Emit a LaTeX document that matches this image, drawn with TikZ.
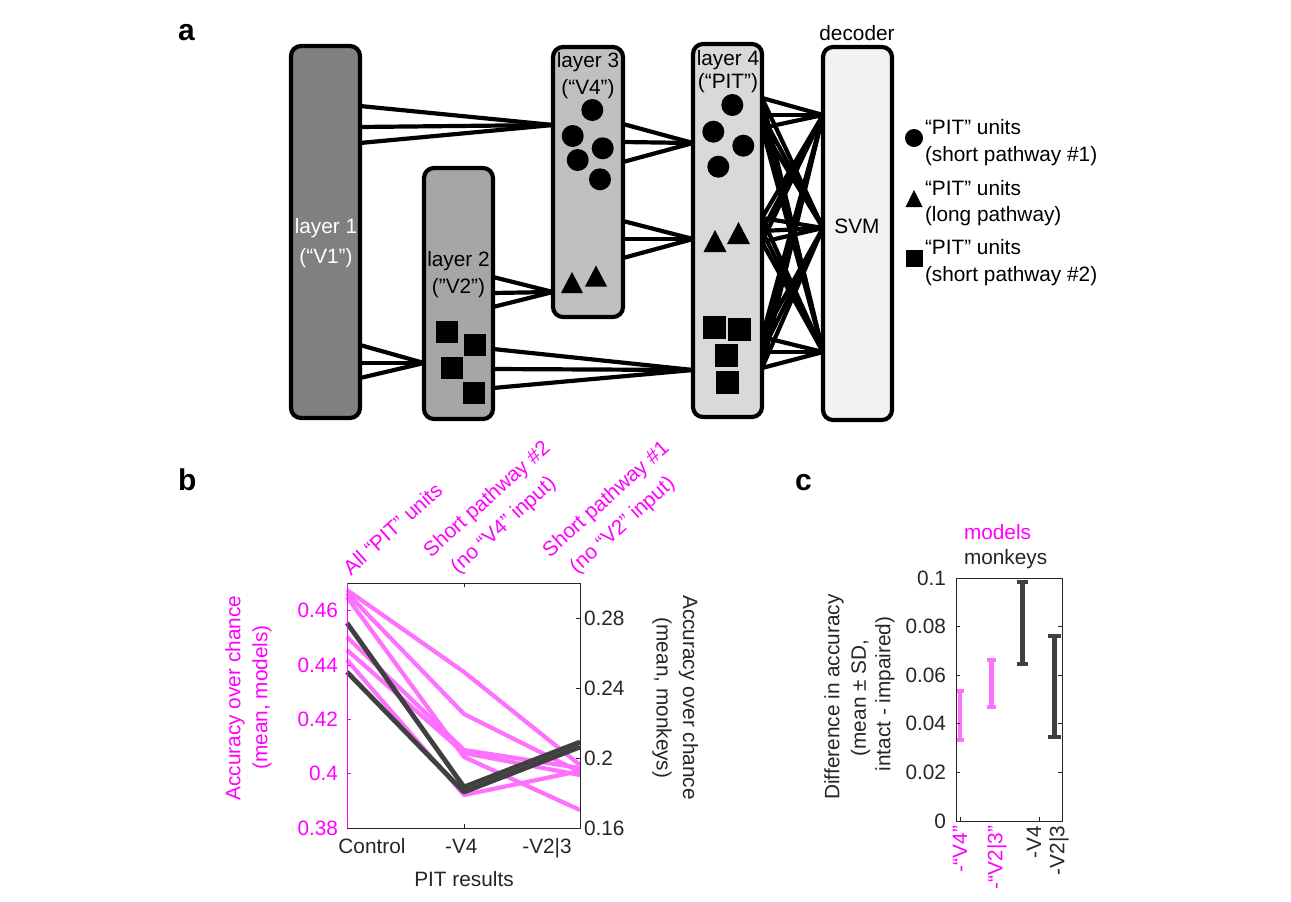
\documentclass[tikz,border=0pt]{standalone}
\usepackage{fontspec}
\setmainfont{Liberation Sans}
\definecolor{mag}{RGB}{255,0,255}
\definecolor{magl}{RGB}{255,112,255}
\definecolor{dkl}{RGB}{64,64,64}
\definecolor{axc}{RGB}{38,38,38}
\definecolor{gA}{RGB}{128,128,128}
\definecolor{gB}{RGB}{166,166,166}
\definecolor{gC}{RGB}{192,192,192}
\definecolor{gD}{RGB}{217,217,217}
\definecolor{gE}{RGB}{242,242,242}
\newcommand\mkcirc[3]{\fill (#1,#2) circle[radius=#3pt];}
\newcommand\mktri[4]{\fill (#1-#3,#2+#4) -- (#1+#3,#2+#4) -- (#1,#2-#4) -- cycle;}
\newcommand\mksq[3]{\fill (#1-#3,#2-#3) rectangle (#1+#3,#2+#3);}
\begin{document}
\begin{tikzpicture}[x=1pt,y=-1pt,
  every node/.style={inner sep=0pt, outer sep=0pt},
  font=\fontsize{20.8}{25}\selectfont,
  layerbox/.style={draw=black, line width=4.2pt, rounded corners=10pt},
  conn/.style={line width=4.2pt},
  txt/.style={anchor=base},
  lgd/.style={anchor=base west},
  panel/.style={font=\fontsize{30}{34}\selectfont\bfseries, anchor=base west},
  axis/.style={axc, line width=0.9pt},
  mline/.style={magl, line width=4.2pt, line join=round},
  gline/.style={dkl, line width=4.8pt, line join=round},
  ebar/.style={line width=4.2pt},
  toplbl/.style={mag, rotate=42, anchor=base west},
]
\useasboundingbox (0,0) rectangle (1291,902);
\fill[white] (0,0) rectangle (1291,902);

% ---------------- panel a ----------------
\node[panel] (pa) at (178,40) {a};

% connector end points
\coordinate (p1) at (360,106); \coordinate (p2) at (360,127); \coordinate (p3) at (360,143);
\coordinate (q1) at (553,125);
\coordinate (p4) at (360,345); \coordinate (p5) at (360,363); \coordinate (p6) at (360,378);
\coordinate (q2) at (424,363);
\coordinate (p7) at (493,277); \coordinate (p8) at (493,293); \coordinate (p9) at (493,307);
\coordinate (q3) at (553,292);
\coordinate (p10) at (493,349); \coordinate (p11) at (493,369); \coordinate (p12) at (493,388);
\coordinate (q4) at (693,370);
\coordinate (p13) at (623,124); \coordinate (p14) at (623,142); \coordinate (p15) at (623,162);
\coordinate (q5) at (693,143);
\coordinate (p16) at (623,221); \coordinate (p17) at (623,239); \coordinate (p18) at (623,258);
\coordinate (q6) at (693,239);
\coordinate (s1) at (762,98);  \coordinate (s2) at (762,115); \coordinate (s3) at (762,128);
\coordinate (s4) at (762,218); \coordinate (s5) at (762,231); \coordinate (s6) at (762,242);
\coordinate (s7) at (762,337); \coordinate (s8) at (762,352); \coordinate (s9) at (762,368);
\coordinate (t1) at (823,115); \coordinate (t2) at (823,228); \coordinate (t3) at (823,352);

\foreach \s in {p1,p2,p3} \draw[conn] (\s) -- (q1);
\foreach \s in {p4,p5,p6} \draw[conn] (\s) -- (q2);
\foreach \s in {p7,p8,p9} \draw[conn] (\s) -- (q3);
\foreach \s in {p10,p11,p12} \draw[conn] (\s) -- (q4);
\foreach \s in {p13,p14,p15} \draw[conn] (\s) -- (q5);
\foreach \s in {p16,p17,p18} \draw[conn] (\s) -- (q6);
\foreach \i in {1,...,9} \foreach \j in {1,2,3} \draw[conn] (s\i) -- (t\j);

% boxes
\node[layerbox, fill=gA, minimum width=69pt, minimum height=372pt] (L1) at (325.5,232) {};
\node[layerbox, fill=gB, minimum width=69pt, minimum height=251pt] (L2) at (458.5,293.5) {};
\node[layerbox, fill=gC, minimum width=70pt, minimum height=270pt] (L3) at (588,182) {};
\node[layerbox, fill=gD, minimum width=69pt, minimum height=373pt] (L4) at (727.5,230.5) {};
\node[layerbox, fill=gE, minimum width=69pt, minimum height=373pt] (SVM) at (857.5,233.5) {};

% box texts
\node[txt, white] (L1t1) at (326,233) {layer 1};
\node[txt, white] (L1t2) at (326,263) {(“V1”)};
\node[txt] (L2t1) at (458.5,266) {layer 2};
\node[txt] (L2t2) at (458.5,293) {(”V2”)};
\node[txt] (L3t1) at (588,67.5) {layer 3};
\node[txt] (L3t2) at (588,94.5) {(“V4”)};
\node[txt] (L4t1) at (728,65) {layer 4};
\node[txt] (L4t2) at (728,88) {(“PIT”)};
\node[txt] (SVMt) at (857,233) {SVM};
\node[txt] (dec) at (857,40) {decoder};

% unit markers
\mkcirc{592.3}{110}{11} \mkcirc{572.7}{136}{11} \mkcirc{602.7}{148.3}{11}
\mkcirc{577.7}{160}{11} \mkcirc{600}{179.3}{11}
\mktri{572}{282.5}{11}{10.5} \mktri{596}{276}{11}{10.5}
\mksq{447}{332}{11} \mksq{474.7}{344.7}{11} \mksq{452.3}{368}{11} \mksq{473.7}{392.8}{11}
\mkcirc{732.3}{105}{11} \mkcirc{713.3}{131.7}{11} \mkcirc{743.3}{145.7}{11} \mkcirc{718.3}{166.7}{11}
\mktri{715}{241}{11.5}{11} \mktri{738.5}{233}{11.5}{11}
\mksq{714.7}{327}{11.5} \mksq{739}{329}{11.5} \mksq{726.3}{355}{11.5} \mksq{727.5}{382}{11.5}

% legend
\mkcirc{914}{138}{9}
\mktri{914}{198.5}{8.5}{8.5}
\mksq{914}{258.5}{8.5}
\node[lgd] (lg1a) at (925,134.3) {“PIT” units};
\node[lgd] (lg1b) at (925,161) {(short pathway \#1)};
\node[lgd] (lg2a) at (925,195) {“PIT” units};
\node[lgd] (lg2b) at (925,221) {(long pathway)};
\node[lgd] (lg3a) at (925,254.3) {“PIT” units};
\node[lgd] (lg3b) at (925,281) {(short pathway \#2)};

% ---------------- panel b ----------------
\node[panel] (pb) at (178,490) {b};

% data lines
\draw[mline] (347,590) -- (464,672) -- (580,765);
\draw[mline] (347,593) -- (464,714) -- (580,772);
\draw[mline] (347,597) -- (464,757) -- (580,810);
\draw[mline] (347,637) -- (464,750) -- (580,768);
\draw[mline] (347,650) -- (464,753) -- (580,775);
\draw[mline] (347,660) -- (464,795) -- (580,771);
\draw[gline] (347,623) -- (464,787) -- (580,742);
\draw[gline] (347,672) -- (464,792) -- (580,747);

% axes
\draw[axis] (347,583) -- (580,583) -- (580,828) -- (347,828);
\draw[mag, line width=0.9pt] (347,583) -- (347,828);
\foreach \y in {610,665.6,719.8,773.6} \draw[mag, line width=0.9pt] (347,\y) -- (351,\y);
\foreach \y in {618,688,758} \draw[axis] (580,\y) -- (576,\y);
\draw[axis] (464,583) -- (464,587);
\draw[axis] (464,828) -- (464,824);

% tick labels
\node[mag, anchor=east] (bl1) at (338,610) {0.46};
\node[mag, anchor=east] (bl2) at (338,665.6) {0.44};
\node[mag, anchor=east] (bl3) at (338,719.8) {0.42};
\node[mag, anchor=east] (bl4) at (338,773.6) {0.4};
\node[mag, anchor=east] (bl5) at (338,828) {0.38};
\node[axc, anchor=west] (br1) at (584,618) {0.28};
\node[axc, anchor=west] (br2) at (584,688) {0.24};
\node[axc, anchor=west] (br3) at (584,758) {0.2};
\node[axc, anchor=west] (br4) at (584,828) {0.16};
\node[txt, axc] (bx1) at (372,853.5) {Control};
\node[txt, axc] (bx2) at (461.3,853.5) {-V4};
\node[txt, axc] (bx3) at (547,853.5) {-V2|3};
\node[txt, axc] (bxl) at (464,886) {PIT results};

% axis labels
\node[mag, rotate=90] (ylb1) at (235,698) {Accuracy over chance};
\node[mag, rotate=90] (ylb2) at (262,697.5) {(mean, models)};
\node[axc, rotate=-90] (yrb1) at (688.5,697.5) {Accuracy over chance};
\node[axc, rotate=-90] (yrb2) at (662,698) {(mean, monkeys)};

% top rotated labels
\node[toplbl] (tl1) at (351,576) {All “PIT” units};
\node[toplbl] (tl2a) at (431,558) {Short pathway \#2};
\node[toplbl] (tl2b) at (458,574) {(no “V4” input)};
\node[toplbl] (tl3a) at (550,558) {Short pathway \#1};
\node[toplbl] (tl3b) at (577,574) {(no “V2” input)};

% ---------------- panel c ----------------
\node[panel] (pc) at (795,490) {c};
\node[lgd, mag] (cm1) at (964,539.5) {models};
\node[lgd, axc] (cm2) at (964,564) {monkeys};

% error bars
\draw[ebar, magl] (956,690.7) -- (964,690.7) (960,690.7) -- (960,740) (956,740) -- (964,740);
\draw[ebar, magl] (987,660) -- (996,660) (991.5,660) -- (991.5,706.7) (987,706.7) -- (996,706.7);
\draw[ebar, dkl] (1017,581.7) -- (1028,581.7) (1022.5,581.7) -- (1022.5,664) (1017,664) -- (1028,664);
\draw[ebar, dkl] (1048,635.7) -- (1061,635.7) (1054.5,635.7) -- (1054.5,737.3) (1048,737.3) -- (1061,737.3);

% axes
\draw[axis] (956,578) rectangle (1062,821);
\foreach \y in {772.4,723.8,675.2,626.6} {
  \draw[axis] (956,\y) -- (960,\y);
  \draw[axis] (1062,\y) -- (1058,\y);
}
\draw[axis] (960,821) -- (960,817);
\draw[axis] (1039,821) -- (1039,817);

\node[axc, anchor=east] (cy0) at (946,821) {0};
\node[axc, anchor=east] (cy1) at (946,772.4) {0.02};
\node[axc, anchor=east] (cy2) at (946,723.8) {0.04};
\node[axc, anchor=east] (cy3) at (946,675.2) {0.06};
\node[axc, anchor=east] (cy4) at (946,626.6) {0.08};
\node[axc, anchor=east] (cy5) at (946,578) {0.1};

\node[mag, rotate=90, anchor=east] (cx1) at (960,826) {-“V4”};
\node[mag, rotate=90, anchor=east] (cx2) at (997,826) {-“V2|3”};
\node[axc, rotate=90, anchor=east] (cx3) at (1034,826) {-V4};
\node[axc, rotate=90, anchor=east] (cx4) at (1059,826) {-V2|3};

\node[axc, rotate=90] (cyl1) at (834,697) {Difference in accuracy};
\node[axc, rotate=90] (cyl2) at (860.5,698) {(mean ± SD,};
\node[axc, rotate=90] (cyl3) at (885,694) {intact - impaired)};
\end{tikzpicture}
\end{document}
